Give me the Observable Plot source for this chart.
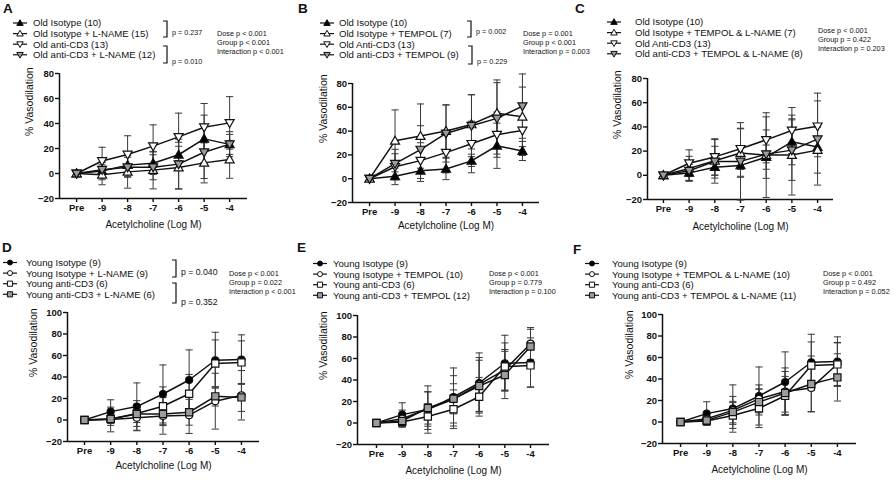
<!DOCTYPE html>
<html><head><meta charset="utf-8">
<script src="https://cdn.jsdelivr.net/npm/d3@7"></script>
<script src="https://cdn.jsdelivr.net/npm/@observablehq/plot@0.6"></script>
<style>
body{margin:0;background:#fff;}
#fig{position:relative;width:896px;height:480px;overflow:hidden;background:#fff;font-family:"Liberation Sans",Arial,sans-serif;}
#fig svg{position:absolute;}
</style></head><body><div id="fig"></div>
<script>
// ---------- DATA ----------
const categories = ["Pre", "-9", "-8", "-7", "-6", "-5", "-4"];
const yTicksOld = [-20, 0, 20, 40, 60, 80];
const yTicksYoung = [-20, 0, 20, 40, 60, 80, 100];
const xTitle = "Acetylcholine (Log M)";
const yTitle = "% Vasodilation";

// Old mice (means, SD)
const oldIsotype        = [0, 2, 6.7, 8.2, 15, 27.7, 23.3];
const oldIsotypeSD      = [1.5, 7, 9, 9, 10, 19, 8];
const oldIsoLNAME       = [0, -1, 1.3, 2.7, 4.8, 8.5, 11.2];
const oldIsoLNAMESD     = [1, 8, 13, 15, 17, 16, 15];
const oldAntiCD3        = [0, 10, 15.2, 21.9, 29.3, 37, 40.5];
const oldAntiCD3SD      = [1, 11, 15, 17, 19, 19, 21];
const oldAntiLNAME      = [0, 3, 5, 5, 7.5, 17, 23.5];
const oldAntiLNAMESD    = [1, 6, 8, 10, 20, 21, 10];
const oldIsoTEMPOL      = [0, 31.8, 35.8, 40, 45.6, 55, 52];
const oldIsoTEMPOLSD    = [1, 26, 27, 22, 25, 28, 25];
const oldAntiTEMPOL     = [0, 12.7, 24.5, 38, 44.5, 50.7, 61];
const oldAntiTEMPOLSD   = [1, 12, 20, 24, 26, 30, 27];
const oldIsoTL          = [0, 5.7, 12, 18.4, 16.7, 16.7, 20.8];
const oldIsoTLSD        = [1, 10, 12, 20, 35, 33, 19];
const oldAntiTL         = [0, 3.8, 11.5, 11.5, 17.5, 20.8, 29.9];
const oldAntiTLSD       = [1, 8, 18, 32, 20, 25, 38];

// Young mice (means, SD)
const youngIsotype      = [0, 7.8, 12.5, 24.2, 37.2, 55.6, 56.2];
const youngIsotypeSD    = [1, 11, 22, 27, 28, 26, 23];
const youngAntiCD3      = [0, 1, 6, 12.8, 24.4, 52.5, 53.6];
const youngAntiCD3SD    = [1, 4, 12, 18, 18, 22, 20];
const youngIsoLNAME     = [0, 0.5, 2, 3.8, 4.5, 17.5, 23];
const youngIsoLNAMESD   = [1, 11.5, 12, 17, 17, 26, 23];
const youngAntiLNAME    = [0, 1, 5.6, 5.6, 7.2, 22, 21];
const youngAntiLNAMESD  = [1, 6, 8, 10, 12, 9, 13];
const youngIsoTEMPOL    = [0, 4, 13, 22, 35.9, 49.4, 73.8];
const youngIsoTEMPOLSD  = [1, 8, 16, 22, 25, 19, 15];
const youngAntiTEMPOL   = [0, 1.9, 14, 22.5, 34.4, 44.7, 71.2];
const youngAntiTEMPOLSD = [1, 5, 15, 14, 24, 22, 16];
const youngIsoTL        = [0, 3, 10.8, 21.5, 28.3, 31.7, 54];
const youngIsoTLSD      = [1, 5, 13, 13, 22, 22, 20];
const youngAntiTL       = [0, 1.5, 9.2, 18.5, 27, 35.4, 41.5];
const youngAntiTLSD     = [1, 4, 10, 12, 20, 26, 22];

// Legend names
const namesA = ["Old Isotype (10)", "Old Isotype + L-NAME (15)", "Old anti-CD3 (13)", "Old anti-CD3 + L-NAME (12)"];
const namesB = ["Old Isotype (10)", "Old Isotype + TEMPOL (7)", "Old Anti-CD3 (13)", "Old anti-CD3 + TEMPOL (9)"];
const namesC = ["Old Isotype (10)", "Old Isotype + TEMPOL & L-NAME (7)", "Old Anti-CD3 (13)", "Old anti-CD3 + TEMPOL & L-NAME (8)"];
const namesD = ["Young Isotype (9)", "Young Isotype + L-NAME (9)", "Young anti-CD3 (6)", "Young anti-CD3 + L-NAME (6)"];
const namesE = ["Young Isotype (9)", "Young Isotype + TEMPOL (10)", "Young anti-CD3 (6)", "Young anti-CD3 + TEMPOL (12)"];
const namesF = ["Young Isotype (9)", "Young Isotype + TEMPOL & L-NAME (10)", "Young anti-CD3 (6)", "Young anti-CD3 + TEMPOL & L-NAME (11)"];

const statsA = ["Dose p < 0.001", "Group p < 0.001", "Interaction p < 0.001"];
const statsB = ["Dose p = 0.001", "Group p < 0.001", "Interaction p = 0.003"];
const statsC = ["Dose p < 0.001", "Group p = 0.422", "Interaction p = 0.203"];
const statsD = ["Dose p < 0.001", "Group p = 0.022", "Interaction p < 0.001"];
const statsE = ["Dose p < 0.001", "Group p = 0.779", "Interaction p = 0.100"];
const statsF = ["Dose p < 0.001", "Group p = 0.492", "Interaction p = 0.052"];

const pairA = ["p = 0.237", "p = 0.010"];
const pairB = ["p = 0.002", "p = 0.229"];
const pairD = ["p = 0.040", "p = 0.352"];

// ---------- SYMBOLS ----------
const rOf = s => Math.sqrt(s / Math.PI);
const SYM = {
  triUp: {draw(c, s) { const r = rOf(s); c.moveTo(0, -r); c.lineTo(r * 0.98, r * 0.72); c.lineTo(-r * 0.98, r * 0.72); c.closePath(); }},
  triDown: {draw(c, s) { const r = rOf(s); c.moveTo(0, r); c.lineTo(r * 0.98, -r * 0.72); c.lineTo(-r * 0.98, -r * 0.72); c.closePath(); }},
  circle: {draw(c, s) { const r = rOf(s); c.moveTo(r, 0); c.arc(0, 0, r, 0, 2 * Math.PI); c.closePath(); }},
  square: {draw(c, s) { const r = rOf(s); c.moveTo(-r, -r); c.lineTo(r, -r); c.lineTo(r, r); c.lineTo(-r, r); c.closePath(); }},
  cap: {draw(c, s) { const r = rOf(s); c.moveTo(-r, 0); c.lineTo(r, 0); }}
};
const GREY = "#9c9c9c";
const oldStyles = [
  {shape: "triUp", fill: "black", r: 4.6},
  {shape: "triUp", fill: "white", r: 4.6},
  {shape: "triDown", fill: "white", r: 4.6},
  {shape: "triDown", fill: GREY, r: 4.6}
];
const youngStyles = [
  {shape: "circle", fill: "black", r: 3.5},
  {shape: "circle", fill: "white", r: 3.5},
  {shape: "square", fill: "white", r: 3.6},
  {shape: "square", fill: GREY, r: 3.6}
];

// ---------- PANELS ----------
const panels = [
  {box: {left: 59, right: 247, top: 73, bottom: 198}, padL: 0.67, padR: 0.7, yTicks: yTicksOld, titleDy: 29, yDx: -30, styles: oldStyles,
   means: [oldIsotype, oldIsoLNAME, oldAntiCD3, oldAntiLNAME], sds: [oldIsotypeSD, oldIsoLNAMESD, oldAntiCD3SD, oldAntiLNAMESD],
   leg: {letter: "A", lx: 3, ly: 13, symX: 20, textX: 33, ys: [23, 33.6, 44.2, 54.8], names: namesA,
     brackets: [{x: 163, y1: 21, y2: 37, ty: 32}, {x: 163, y1: 46, y2: 63, ty: 61}], pairs: pairA, pSize: 7.2,
     statsX: 217, statsY: [33, 42, 51], stats: statsA}},
  {box: {left: 352, right: 539, top: 83, bottom: 202}, padL: 0.67, padR: 0.67, yTicks: yTicksOld, titleDy: 26, yDx: -29, styles: oldStyles,
   means: [oldIsotype, oldIsoTEMPOL, oldAntiCD3, oldAntiTEMPOL], sds: [oldIsotypeSD, oldIsoTEMPOLSD, oldAntiCD3SD, oldAntiTEMPOLSD],
   leg: {letter: "B", lx: 298, ly: 13, symX: 327, textX: 339, ys: [23, 33.6, 44.2, 54.8], names: namesB,
     brackets: [{x: 467, y1: 21, y2: 37, ty: 31}, {x: 468, y1: 46, y2: 64, ty: 61}], pairs: pairB, pSize: 7.2,
     statsX: 523, statsY: [33, 42, 51], stats: statsB}},
  {box: {left: 647, right: 833, top: 78, bottom: 199}, padL: 0.62, padR: 0.62, yTicks: yTicksOld, titleDy: 30, yDx: -30, styles: oldStyles,
   means: [oldIsotype, oldIsoTL, oldAntiCD3, oldAntiTL], sds: [oldIsotypeSD, oldIsoTLSD, oldAntiCD3SD, oldAntiTLSD],
   leg: {letter: "C", lx: 575, ly: 13, symX: 614, textX: 635, ys: [22, 32.6, 43.2, 53.8], names: namesC,
     brackets: [], pairs: [], pSize: 7.2, statsX: 818, statsY: [30.5, 39.5, 48.5], stats: statsC}},
  {box: {left: 67, right: 259, top: 312, bottom: 441}, padL: 0.65, padR: 0.69, yTicks: yTicksYoung, titleDy: 27, yDx: -34, styles: youngStyles,
   means: [youngIsotype, youngIsoLNAME, youngAntiCD3, youngAntiLNAME], sds: [youngIsotypeSD, youngIsoLNAMESD, youngAntiCD3SD, youngAntiLNAMESD],
   leg: {letter: "D", lx: 2, ly: 252, symX: 10, textX: 26, ys: [262.5, 273.1, 283.7, 294.3], names: namesD,
     brackets: [{x: 172, y1: 260, y2: 277, ty: 272}, {x: 172, y1: 283, y2: 303, ty: 302}], pairs: pairD, pSize: 8.7,
     statsX: 229, statsY: [273, 282, 291], stats: statsD}},
  {box: {left: 357, right: 549, top: 315, bottom: 444}, padL: 0.74, padR: 0.74, yTicks: yTicksYoung, titleDy: 29, yDx: -34, styles: youngStyles,
   means: [youngIsotype, youngIsoTEMPOL, youngAntiCD3, youngAntiTEMPOL], sds: [youngIsotypeSD, youngIsoTEMPOLSD, youngAntiCD3SD, youngAntiTEMPOLSD],
   leg: {letter: "E", lx: 297, ly: 252, symX: 320, textX: 333, ys: [263.5, 274.1, 284.7, 295.3], names: namesE,
     brackets: [], pairs: [], pSize: 7.2, statsX: 489, statsY: [273, 282, 291], stats: statsE}},
  {box: {left: 662, right: 856, top: 314, bottom: 443}, padL: 0.69, padR: 0.73, yTicks: yTicksYoung, titleDy: 29, yDx: -33, styles: youngStyles,
   means: [youngIsotype, youngIsoTL, youngAntiCD3, youngAntiTL], sds: [youngIsotypeSD, youngIsoTLSD, youngAntiCD3SD, youngAntiTLSD],
   leg: {letter: "F", lx: 573, ly: 254, symX: 592, textX: 612, ys: [263.5, 274.1, 284.7, 295.3], names: namesF,
     brackets: [], pairs: [], pSize: 7.2, statsX: 823, statsY: [273, 282, 291], stats: statsF}}
];

const fig = document.getElementById("fig");
const FONT = '"Liberation Sans", Arial, sans-serif';

// ---------- OVERLAY (legends, letters, stats) ----------
const ov = d3.select(fig).append("svg").attr("width", 896).attr("height", 480)
  .style("left", "0px").style("top", "0px").attr("font-family", FONT);

function symPath(shape, r) { const p = d3.path(); SYM[shape].draw(p, r * r * Math.PI); return p.toString(); }

panels.forEach(p => {
  const L = p.leg;
  ov.append("text").attr("x", L.lx).attr("y", L.ly).attr("font-size", 13.5).attr("font-weight", "bold").attr("fill", "#111").text(L.letter);
  L.names.forEach((name, k) => {
    const st = p.styles[k], y = L.ys[k];
    ov.append("line").attr("x1", L.symX - 7).attr("x2", L.symX + 7).attr("y1", y).attr("y2", y).attr("stroke", "#111").attr("stroke-width", 1.2);
    ov.append("path").attr("d", symPath(st.shape, st.r * 0.72)).attr("transform", `translate(${L.symX},${y})`)
      .attr("fill", st.fill).attr("stroke", "#111").attr("stroke-width", 1);
    ov.append("text").attr("x", L.textX).attr("y", y).attr("dy", "0.36em").attr("font-size", 9.6).attr("fill", "#111").text(name);
  });
  L.brackets.forEach((b, k) => {
    ov.append("path").attr("d", `M${b.x},${b.y1}H${b.x + 4}V${b.y2}H${b.x}`).attr("fill", "none").attr("stroke", "#111").attr("stroke-width", 1.2);
    ov.append("text").attr("x", b.x + 9).attr("y", b.ty).attr("dy", "0.36em").attr("font-size", L.pSize).attr("fill", "#111").text(L.pairs[k]);
  });
  L.stats.forEach((s, k) => {
    ov.append("text").attr("x", L.statsX).attr("y", L.statsY[k]).attr("dy", "0.36em").attr("font-size", 7.3).attr("fill", "#111").text(s);
  });
});

// ---------- PLOTS ----------
panels.forEach(p => {
  const mL = 62, mR = 20, mT = 14, mB = 42;
  const W = (p.box.right - p.box.left) + mL + mR;
  const H = (p.box.bottom - p.box.top) + mT + mB;
  const rows = [];
  p.means.forEach((m, k) => categories.forEach((c, i) => rows.push({k, i, cat: c, mean: m[i], sd: p.sds[k][i]})));
  const xDom = [-p.padL, categories.length - 1 + p.padR];
  const yDom = [p.yTicks[0], p.yTicks[p.yTicks.length - 1]];
  const idx = categories.map((c, i) => i);
  const chart = Plot.plot({
    width: W, height: H, marginLeft: mL, marginRight: mR, marginTop: mT, marginBottom: mB,
    x: {type: "linear", domain: xDom},
    y: {type: "linear", domain: yDom},
    style: {background: "transparent", overflow: "visible", fontFamily: FONT, fontSize: "10px", color: "#111"},
    marks: [
      Plot.ruleY([yDom[0]], {stroke: "#111", strokeWidth: 1.5}),
      Plot.ruleX([xDom[0]], {y1: yDom[0], y2: yDom[1], stroke: "#111", strokeWidth: 1.5}),
      Plot.axisX({ticks: idx, tickFormat: i => categories[i], tickSize: 4, tickPadding: 2, strokeWidth: 1.4, fontWeight: "bold", fontSize: 9.5, label: null}),
      Plot.axisY({ticks: p.yTicks, tickSize: 4, tickPadding: 1.5, strokeWidth: 1.4, fontWeight: "bold", fontSize: 9.5, label: null}),
      Plot.text([xTitle], {text: d => d, frameAnchor: "bottom", dy: p.titleDy, fontSize: 10, fill: "#111"}),
      Plot.text([yTitle], {text: d => d, frameAnchor: "left", dx: p.yDx, rotate: -90, fontSize: 10.5, fill: "#111"}),
      Plot.ruleX(rows, {x: "i", y1: d => d.mean - d.sd, y2: d => d.mean + d.sd, stroke: "#3a3a3a", strokeWidth: 1}),
      Plot.dot(rows, {x: "i", y: d => d.mean + d.sd, symbol: SYM.cap, r: 3.6, fill: "none", stroke: "#3a3a3a", strokeWidth: 1}),
      Plot.dot(rows, {x: "i", y: d => d.mean - d.sd, symbol: SYM.cap, r: 3.6, fill: "none", stroke: "#3a3a3a", strokeWidth: 1}),
      Plot.line(rows, {x: "i", y: "mean", z: "k", stroke: "#111", strokeWidth: 1.5}),
      ...p.styles.map((st, k) => Plot.dot(rows.filter(d => d.k === k), {
        x: "i", y: "mean", symbol: SYM[st.shape], r: st.r, fill: st.fill, stroke: "#111", strokeWidth: 1.2
      }))
    ]
  });
  chart.style.left = (p.box.left - mL) + "px";
  chart.style.top = (p.box.top - mT) + "px";
  fig.appendChild(chart);
});
</script></body></html>
